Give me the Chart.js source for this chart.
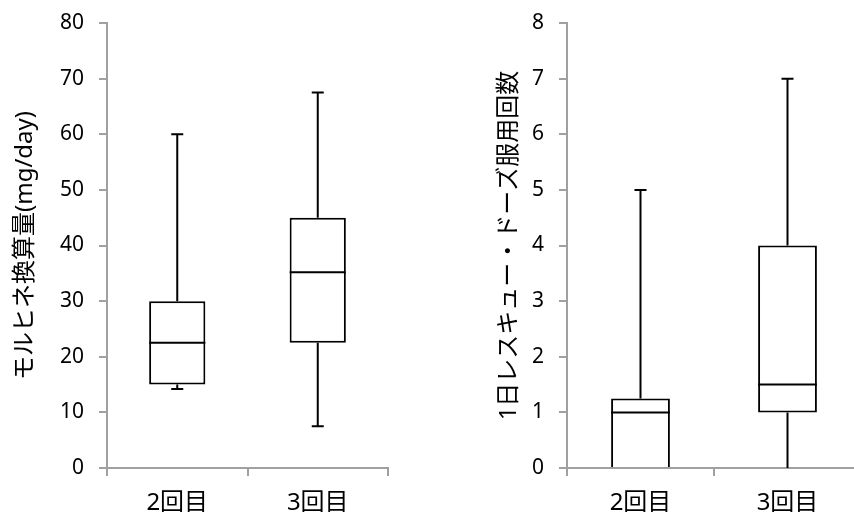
<!DOCTYPE html>
<html>
<head>
<meta charset="utf-8">
<script src="https://cdn.jsdelivr.net/npm/chart.js@4/dist/chart.umd.min.js"></script>
<style>
  html, body { margin: 0; padding: 0; background: #fff; width: 854px; height: 512px; overflow: hidden; }
  #left { position: absolute; left: 0; top: 0; }
  #right { position: absolute; left: 427px; top: 0; }
</style>
</head>
<body>
<canvas id="left" width="427" height="512"></canvas>
<canvas id="right" width="434" height="512"></canvas>
<script>
const categories = ['2回目', '3回目'];

// モルヒネ換算量 (mg/day)
const morMin = [14.2, 7.5];
const morQ1 = [15, 22.5];
const morMedian = [22.5, 35.2];
const morQ3 = [30, 45];
const morMax = [60, 67.5];

// 1日レスキュー・ドーズ服用回数
const rescMin = [0, 0];
const rescQ1 = [0, 1];
const rescMedian = [1, 1.5];
const rescQ3 = [1.25, 4];
const rescMax = [5, 7];

const FONT = '"Noto Sans", "Noto Sans CJK JP", sans-serif';
const AXIS_GREY = '#a0a0a0';

// whiskers + median drawn on top of the floating bars
const boxPlugin = {
  id: 'boxWhiskers',
  afterDatasetsDraw(chart, args, opts) {
    const { ctx, scales: { x, y } } = chart;
    const meta = chart.getDatasetMeta(0);
    ctx.save();
    ctx.strokeStyle = '#000';
    ctx.lineWidth = 2;
    ctx.lineCap = 'butt';
    opts.median.forEach((m, i) => {
      const bar = meta.data[i];
      const cx = x.getPixelForValue(i);
      const half = bar.width / 2;
      const capHalf = 6;
      const yMin = y.getPixelForValue(opts.min[i]);
      const yMax = y.getPixelForValue(opts.max[i]);
      const yQ1 = y.getPixelForValue(opts.q1[i]);
      const yQ3 = y.getPixelForValue(opts.q3[i]);
      const yMed = y.getPixelForValue(m);
      ctx.beginPath();
      // upper whisker
      ctx.moveTo(cx, yQ3); ctx.lineTo(cx, yMax);
      ctx.moveTo(cx - capHalf, yMax); ctx.lineTo(cx + capHalf, yMax);
      // lower whisker
      if (opts.min[i] < opts.q1[i]) {
        ctx.moveTo(cx, yQ1); ctx.lineTo(cx, yMin);
        if (opts.min[i] > 0) {
          ctx.moveTo(cx - capHalf, yMin); ctx.lineTo(cx + capHalf, yMin);
        }
      }
      // median
      ctx.moveTo(cx - half, yMed); ctx.lineTo(cx + half, yMed);
      ctx.stroke();
    });
    ctx.restore();
  }
};

function makeBox(id, q1, q3, med, lo, hi, yMax, step, title, yWidth, titlePad, padRight) {
  return new Chart(document.getElementById(id), {
    type: 'bar',
    data: {
      labels: categories,
      datasets: [{
        data: q1.map((v, i) => [v, q3[i]]),
        backgroundColor: '#fff',
        borderColor: '#000',
        borderWidth: 2,
        borderSkipped: c => (q1[c.dataIndex] === 0 ? 'start' : false),
        barPercentage: 0.4,
        categoryPercentage: 1,
      }],
    },
    options: {
      responsive: false,
      animation: false,
      devicePixelRatio: 1,
      layout: { padding: { top: 23, right: padRight, left: 0, bottom: 0 } },
      plugins: {
        legend: { display: false },
        tooltip: { enabled: false },
        boxWhiskers: { q1, q3, median: med, min: lo, max: hi },
      },
      scales: {
        x: {
          offset: true,
          grid: { offset: true, drawOnChartArea: false, drawTicks: true, tickLength: 8, color: AXIS_GREY, lineWidth: 2 },
          border: { color: AXIS_GREY, width: 2 },
          ticks: { color: '#000', padding: 13, font: { family: FONT, size: 24 } },
          afterFit(scale) { scale.height = 44; },
        },
        y: {
          min: 0,
          max: yMax,
          grid: { drawOnChartArea: false, drawTicks: true, tickLength: 8, color: AXIS_GREY, lineWidth: 2 },
          border: { color: AXIS_GREY, width: 2 },
          ticks: { stepSize: step, color: '#000', padding: 15, font: { family: FONT, size: 21 } },
          title: {
            display: true,
            text: title,
            color: '#000',
            padding: { top: titlePad, bottom: 0 },
            font: { family: FONT, size: 24 },
          },
          afterFit(scale) {
            scale.width = yWidth;
            scale.paddingTop = 0;
            scale.paddingBottom = 0;
          },
        },
      },
    },
    plugins: [boxPlugin],
  });
}

makeBox('left', morQ1, morQ3, morMedian, morMin, morMax, 80, 10, 'モルヒネ換算量(mg/day)', 107, 11, 39);
makeBox('right', rescQ1, rescQ3, rescMedian, rescMin, rescMax, 8, 1, '1日レスキュー・ドーズ服用回数', 140, 68, 0);
</script>
</body>
</html>
